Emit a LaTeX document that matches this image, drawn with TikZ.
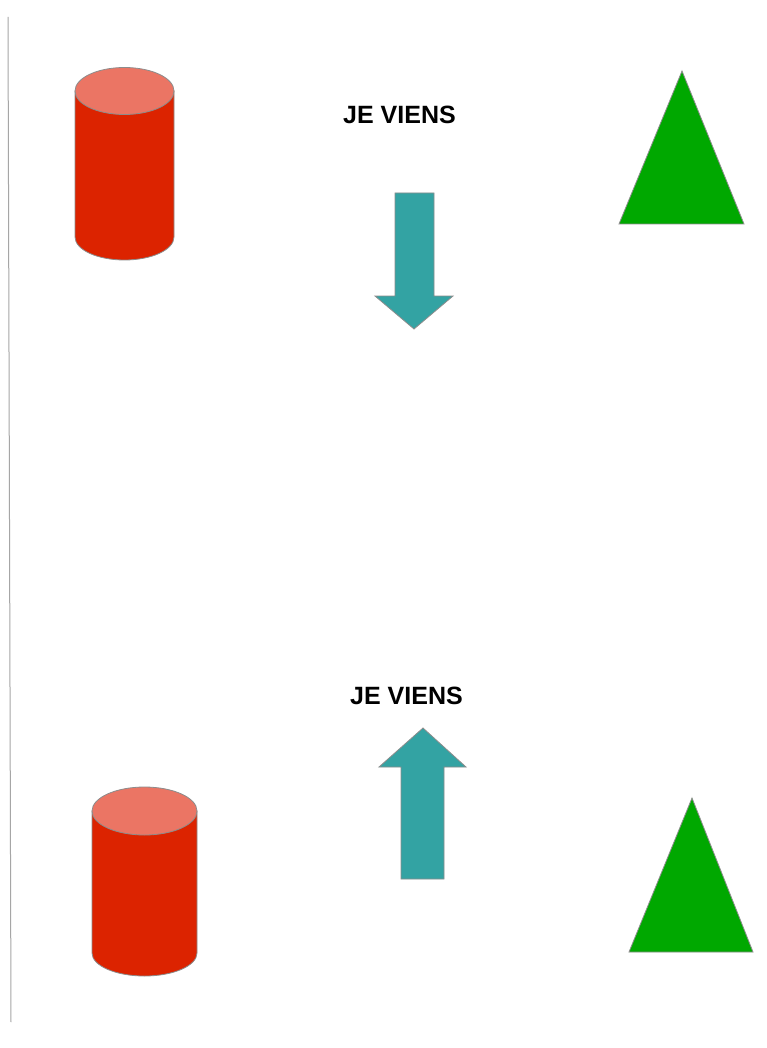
\documentclass[tikz,border=0pt]{standalone}
\usepackage{fontspec}
\setmainfont{Liberation Sans}
\begin{document}
\begin{tikzpicture}[x=1pt,y=-1pt,
  outl/.style={draw=gray!90,line width=0.8pt,line join=miter},
  cylbody/.style={outl,fill=cylred},
  cyltop/.style={outl,fill=cyltopc},
  tri/.style={outl,fill=trigreen},
  arr/.style={outl,fill=arrteal},
  lbl/.style={font=\bfseries\fontsize{25}{25}\selectfont,inner sep=0pt,anchor=center}]
\definecolor{cylred}{HTML}{DC2300}
\definecolor{cyltopc}{HTML}{EB7564}
\definecolor{trigreen}{HTML}{00A800}
\definecolor{arrteal}{HTML}{33A3A3}
\useasboundingbox (0,0) rectangle (766,1048);
\fill[white] (0,0) rectangle (766,1048);
% left line
\draw[gray!70,line width=1pt] (8,17) -- (11,1022);
% cylinder 1
\draw[cylbody] (75,91) -- (75,237) arc[start angle=180,end angle=0,x radius=49.5,y radius=23] -- (174,91) -- cycle;
\draw[cyltop] (124.5,91) ellipse[x radius=49.5,y radius=23.5];
% cylinder 2
\draw[cylbody] (92,811) -- (92,953) arc[start angle=180,end angle=0,x radius=52.5,y radius=23] -- (197,811) -- cycle;
\draw[cyltop] (144.5,811) ellipse[x radius=52.5,y radius=24];
% labels
\node[lbl] (t1) at (399.5,115) {JE VIENS};
\node[lbl] (t2) at (406.5,696) {JE VIENS};
% down arrow
\draw[arr] (395,193) -- (434,193) -- (434,296) -- (453,296) -- (414,329) -- (375,296) -- (395,296) -- cycle;
% up arrow
\draw[arr] (401,879) -- (444,879) -- (444,767) -- (466,767) -- (423,728) -- (379,767) -- (401,767) -- cycle;
% triangles
\draw[tri] (682,71) -- (744,224) -- (619,224) -- cycle;
\draw[tri] (692,798) -- (753,952) -- (629,952) -- cycle;
\end{tikzpicture}
\end{document}
